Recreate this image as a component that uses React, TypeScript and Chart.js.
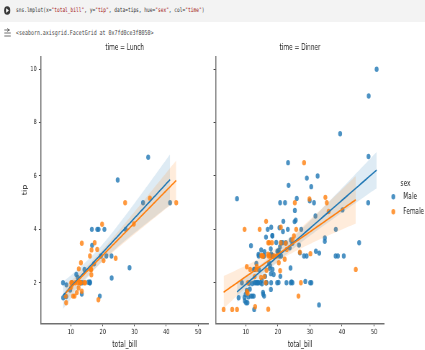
import React, { useEffect, useRef } from "react";
import { Chart, registerables } from "chart.js";
Chart.register(...registerables);

// ---- data: seaborn "tips" (total_bill, tip) split by time and sex ----
const lunchMaleBill = [27.2, 22.76, 17.29, 19.44, 16.66, 32.68, 15.98, 13.03, 18.28, 24.71, 21.16, 11.69, 14.26, 15.95, 8.52, 22.82, 19.08, 16.0, 34.3, 41.19, 9.78, 7.51, 28.44, 15.48, 16.58, 7.56, 10.34, 13.51, 18.71, 20.53, 12.16, 8.58, 13.42];
const lunchMaleTip = [4.0, 3.0, 2.71, 3.0, 3.4, 5.0, 2.03, 2.0, 4.0, 5.85, 3.0, 2.31, 2.5, 2.0, 1.48, 2.18, 1.5, 2.0, 6.7, 5.0, 1.73, 2.0, 2.56, 2.02, 4.0, 1.44, 2.0, 2.0, 4.0, 4.0, 2.2, 1.92, 1.58];
const lunchFemaleBill = [10.07, 34.83, 10.65, 12.43, 24.08, 13.42, 12.48, 29.8, 14.52, 11.38, 20.27, 11.17, 12.26, 18.26, 8.51, 10.33, 14.15, 13.16, 17.47, 27.05, 16.43, 8.35, 18.64, 11.87, 19.81, 43.11, 13.0, 12.74, 13.0, 16.4, 16.47, 13.42, 15.98, 16.27, 10.09];
const lunchFemaleTip = [1.83, 5.17, 1.5, 1.8, 2.92, 1.68, 2.52, 4.2, 2.0, 2.0, 2.83, 1.5, 2.0, 3.25, 1.25, 2.0, 2.0, 2.75, 3.5, 5.0, 2.3, 1.5, 1.36, 1.63, 4.19, 5.0, 2.0, 2.01, 2.0, 2.5, 3.23, 3.48, 3.0, 2.5, 2.0];
const dinnerMaleBill = [10.34, 21.01, 23.68, 25.29, 8.77, 26.88, 15.04, 14.78, 10.27, 15.42, 18.43, 21.58, 16.29, 20.65, 17.92, 39.42, 19.82, 17.81, 13.37, 12.69, 21.7, 9.55, 18.35, 17.78, 24.06, 16.31, 18.69, 31.27, 16.04, 17.46, 13.94, 9.68, 30.4, 18.29, 22.23, 32.4, 28.55, 18.04, 12.54, 9.94, 25.56, 19.49, 38.01, 11.24, 48.27, 20.29, 13.81, 11.02, 18.29, 17.59, 20.08, 20.23, 15.01, 12.02, 10.51, 17.92, 28.97, 22.49, 40.17, 27.28, 12.03, 21.01, 12.46, 15.36, 20.49, 25.21, 18.24, 14.0, 38.07, 23.95, 29.93, 14.07, 13.13, 17.26, 24.55, 19.77, 48.17, 16.49, 21.5, 12.66, 13.81, 24.52, 20.76, 31.71, 50.81, 15.81, 7.25, 31.85, 16.82, 32.9, 17.89, 14.48, 34.63, 34.65, 23.33, 45.35, 23.17, 40.55, 20.69, 30.46, 23.1, 15.69, 26.59, 38.73, 24.27, 30.06, 25.89, 48.33, 28.15, 11.59, 7.74, 20.45, 13.28, 24.01, 15.69, 11.61, 10.77, 15.53, 10.07, 12.6, 32.83, 29.03, 22.67, 17.82];
const dinnerMaleTip = [1.66, 3.5, 3.31, 4.71, 2.0, 3.12, 1.96, 3.23, 1.71, 1.57, 3.0, 3.92, 3.71, 3.35, 4.08, 7.58, 3.18, 2.34, 2.0, 2.0, 4.3, 1.45, 2.5, 3.27, 3.6, 2.0, 2.31, 5.0, 2.24, 2.54, 3.06, 1.32, 5.6, 3.0, 5.0, 6.0, 2.05, 3.0, 2.5, 1.56, 4.34, 3.51, 3.0, 1.76, 6.73, 3.21, 2.0, 1.98, 3.76, 2.64, 3.15, 2.01, 2.09, 1.97, 1.25, 3.08, 3.0, 3.5, 4.73, 4.0, 1.5, 3.0, 1.5, 1.64, 4.06, 4.29, 3.76, 3.0, 4.0, 2.55, 5.07, 2.5, 2.0, 2.74, 2.0, 2.0, 5.0, 2.0, 3.5, 2.5, 2.0, 3.48, 2.24, 4.5, 10.0, 3.16, 5.15, 3.18, 4.0, 3.11, 2.0, 2.0, 3.55, 3.68, 5.65, 3.5, 6.5, 3.0, 5.0, 2.0, 4.0, 1.5, 3.41, 3.0, 2.03, 2.0, 5.16, 9.0, 3.0, 1.5, 1.44, 3.0, 2.72, 2.0, 3.0, 3.39, 1.47, 3.0, 1.25, 1.0, 1.17, 5.92, 2.0, 1.75];
const dinnerFemaleBill = [16.99, 24.59, 35.26, 14.83, 10.33, 16.97, 20.29, 15.77, 19.65, 15.06, 20.69, 16.93, 10.29, 34.81, 26.41, 16.45, 3.07, 17.07, 26.86, 25.28, 14.73, 5.75, 16.32, 22.75, 11.35, 15.38, 44.3, 22.42, 20.92, 14.31, 7.25, 25.71, 17.31, 29.85, 25.0, 13.39, 16.21, 17.51, 10.59, 10.63, 9.6, 20.9, 18.15, 12.76, 13.27, 28.17, 12.9, 30.14, 22.12, 35.83, 27.18, 18.78];
const dinnerFemaleTip = [1.01, 3.61, 5.0, 3.02, 1.67, 3.5, 2.75, 2.23, 3.0, 3.0, 2.45, 3.07, 2.6, 5.2, 1.5, 2.47, 1.0, 3.0, 3.14, 5.0, 2.2, 1.0, 4.3, 3.25, 2.5, 3.0, 2.5, 3.48, 4.08, 4.0, 1.0, 4.0, 3.5, 5.14, 3.75, 2.61, 2.0, 3.0, 1.61, 2.0, 4.0, 3.5, 3.5, 2.23, 2.5, 6.5, 1.1, 3.09, 2.88, 4.67, 2.0, 3.0];

const SEXES = ["Male", "Female"];
const LEGEND_TITLE = "sex";
const PANEL_TITLES = ["time = Lunch", "time = Dinner"];
const X_LABEL = "total_bill";
const Y_LABEL = "tip";
const X_TICKS = [10, 20, 30, 40, 50];
const Y_TICKS = [2, 4, 6, 8, 10];
const X_RANGE = [0.6, 53.2];
const Y_RANGE = [0.48, 10.47];

// ---- styling ----
const S = 0.72; // horizontal squeeze of the screenshot
const WU = 591;
const FONT = "DejaVu Sans";
const MONO = "DejaVu Sans Mono";
const PT = ["rgba(31,119,180,0.8)", "rgba(255,127,14,0.8)"];
const LINE = ["#1f77b4", "#ff7f0e"];
const BAND = ["rgba(31,119,180,0.15)", "rgba(255,127,14,0.15)"];
const STR = "#a31515";

function pts(xs: number[], ys: number[]) {
  return xs.map((x, i) => ({ x, y: ys[i] }));
}

function fit(xs: number[], ys: number[]) {
  const n = xs.length;
  const mx = xs.reduce((a, b) => a + b, 0) / n;
  const my = ys.reduce((a, b) => a + b, 0) / n;
  let sxx = 0, sxy = 0;
  for (let i = 0; i < n; i++) {
    sxx += (xs[i] - mx) ** 2;
    sxy += (xs[i] - mx) * (ys[i] - my);
  }
  const b = sxy / sxx, a = my - b * mx;
  let sse = 0;
  for (let i = 0; i < n; i++) sse += (ys[i] - a - b * xs[i]) ** 2;
  const se = Math.sqrt(sse / (n - 2));
  const t = 1.96 + 2.4 / (n - 2);
  const lo = Math.min(...xs), hi = Math.max(...xs);
  const line: any[] = [], up: any[] = [], dn: any[] = [];
  const K = 80;
  for (let k = 0; k <= K; k++) {
    const x = lo + ((hi - lo) * k) / K;
    const y = a + b * x;
    const h = t * se * Math.sqrt(1 / n + (x - mx) ** 2 / sxx);
    line.push({ x, y });
    up.push({ x, y: y + h });
    dn.push({ x, y: y - h });
  }
  return { line, up, dn };
}

function buildDatasets(groups: [number[], number[]][]) {
  const scat: any[] = [], bands: any[] = [], lines: any[] = [];
  groups.forEach(([bx, ty], g) => {
    const f = fit(bx, ty);
    const base = 6 - g * 2;
    scat.push({
      type: "scatter", label: SEXES[g], legendItem: true, data: pts(bx, ty),
      backgroundColor: PT[g], pointBackgroundColor: PT[g], pointBorderWidth: 0,
      pointBorderColor: "rgba(0,0,0,0)", pointRadius: 2.7, order: base,
    });
    bands.push([
      { type: "line", data: f.up, borderWidth: 0, borderColor: "rgba(0,0,0,0)", pointRadius: 0, fill: false, order: base - 1, tension: 0 },
      { type: "line", data: f.dn, borderWidth: 0, borderColor: "rgba(0,0,0,0)", pointRadius: 0, fill: "-1", backgroundColor: BAND[g], order: base - 1, tension: 0 },
    ]);
    lines.push({ type: "line", data: f.line, borderColor: LINE[g], borderWidth: 1.6, pointRadius: 0, fill: false, order: 2 - g, tension: 0 });
  });
  return [scat[0], ...bands[0], scat[1], ...bands[1], ...lines];
}

const legendPlugin = {
  id: "sexLegend",
  afterDraw(chart: any) {
    const ctx = chart.ctx;
    ctx.save();
    ctx.font = `8px "${FONT}"`;
    ctx.textBaseline = "middle";
    ctx.fillStyle = "#222";
    ctx.textAlign = "center";
    ctx.fillText(LEGEND_TITLE, 269.2, 144.3);
    const items = chart.data.datasets.filter((d: any) => d.legendItem);
    items.forEach((d: any, i: number) => {
      const y = 156.7 + i * 15;
      ctx.beginPath();
      ctx.arc(252.3, y, 2.7, 0, Math.PI * 2);
      ctx.fillStyle = d.backgroundColor;
      ctx.fill();
      ctx.fillStyle = "#222";
      ctx.textAlign = "left";
      ctx.fillText(d.label, 266.1, y);
    });
    ctx.restore();
  },
};

function makeConfig(panel: number): any {
  const isLeft = panel === 0;
  const groups: [number[], number[]][] = isLeft
    ? [[lunchMaleBill, lunchMaleTip], [lunchFemaleBill, lunchFemaleTip]]
    : [[dinnerMaleBill, dinnerMaleTip], [dinnerFemaleBill, dinnerFemaleTip]];
  const grid = { display: true, drawOnChartArea: false, drawTicks: true, tickLength: 3, tickColor: "#444", tickWidth: 1 };
  const border = { display: true, color: "#707070", width: 1.5 };
  return {
    type: "scatter",
    data: { datasets: buildDatasets(groups) },
    plugins: isLeft ? [] : [legendPlugin],
    options: {
      animation: false,
      responsive: false,
      devicePixelRatio: 1,
      events: [],
      layout: { padding: { left: 0, right: isLeft ? 4.7 : 57.25, top: 0, bottom: 0 } },
      plugins: {
        legend: { display: false },
        tooltip: { enabled: false },
        title: {
          display: true, text: PANEL_TITLES[panel], fullSize: false, color: "#222",
          font: { family: FONT, size: 8, weight: "normal", lineHeight: 1.2 },
          padding: { top: 3.2, bottom: 3.9 },
        },
      },
      scales: {
        x: {
          type: "linear", min: X_RANGE[0], max: X_RANGE[1],
          afterBuildTicks: (s: any) => { s.ticks = X_TICKS.map((v) => ({ value: v })); },
          afterFit: (s: any) => { s.height = 26.7; },
          grid, border,
          ticks: { color: "#222", font: { family: FONT, size: 7 }, padding: 2, maxRotation: 0, autoSkip: false },
          title: { display: true, text: X_LABEL, color: "#222", font: { family: FONT, size: 8, lineHeight: 1.2 }, padding: { top: 0, bottom: 0 } },
        },
        y: {
          type: "linear", min: Y_RANGE[0], max: Y_RANGE[1],
          afterBuildTicks: (s: any) => { s.ticks = Y_TICKS.map((v) => ({ value: v })); },
          afterFit: (s: any) => { s.width = isLeft ? 56.94 : 5.58; },
          grid, border,
          ticks: { display: isLeft, color: "#222", font: { family: FONT, size: 7 }, padding: 3 },
          title: { display: isLeft, text: Y_LABEL, color: "#222", font: { family: FONT, size: 8, lineHeight: 1.2 }, padding: { top: 30.5, bottom: 0 } },
        },
      },
    },
  };
}

export default function App() {
  const leftRef = useRef<HTMLCanvasElement>(null);
  const rightRef = useRef<HTMLCanvasElement>(null);
  useEffect(() => {
    const c1 = new Chart(leftRef.current as any, makeConfig(0));
    const c2 = new Chart(rightRef.current as any, makeConfig(1));
    return () => { c1.destroy(); c2.destroy(); };
  }, []);

  const mono: any = { position: "absolute", left: 22.2, whiteSpace: "pre", fontFamily: MONO, color: "#333" };
  return (
    <div style={{ position: "fixed", left: 0, top: 0, width: WU, height: 350, overflow: "hidden", background: "#fff", transform: `scaleX(${S})`, transformOrigin: "0 0" }}>
      <div style={{ position: "absolute", left: 0, top: 0, width: WU, height: 22, background: "#f3f3f3" }} />
      <svg style={{ position: "absolute", left: 5, top: 5 }} width={10} height={11}>
        <circle cx={5} cy={5.5} r={4.3} fill="#3a3a3a" />
        <path d="M3.6 3.2 L7.4 5.5 L3.6 7.8 Z" fill="#fff" />
      </svg>
      <div style={{ ...mono, top: 6, fontSize: 6.3, lineHeight: "8px" }}>
        sns.lmplot(x=<span style={{ color: STR }}>"total_bill"</span>, y=<span style={{ color: STR }}>"tip"</span>, data=tips, hue=<span style={{ color: STR }}>"sex"</span>, col=<span style={{ color: STR }}>"time"</span>)
      </div>
      <svg style={{ position: "absolute", left: 5, top: 28 }} width={11} height={10}>
        <path d="M1 2 H8 M5 0.5 L8 2 L5 3.5 M1 5 H10 M1 8 H10" stroke="#555" strokeWidth={1} fill="none" />
      </svg>
      <div style={{ ...mono, top: 29, fontSize: 6.9, lineHeight: "8px", color: "#444" }}>
        {"<seaborn.axisgrid.FacetGrid at 0x7fd0ce3f8050>"}
      </div>
      <canvas ref={leftRef} width={294} height={310} style={{ position: "absolute", left: 0, top: 40 }} />
      <canvas ref={rightRef} width={297} height={310} style={{ position: "absolute", left: 294, top: 40 }} />
    </div>
  );
}
